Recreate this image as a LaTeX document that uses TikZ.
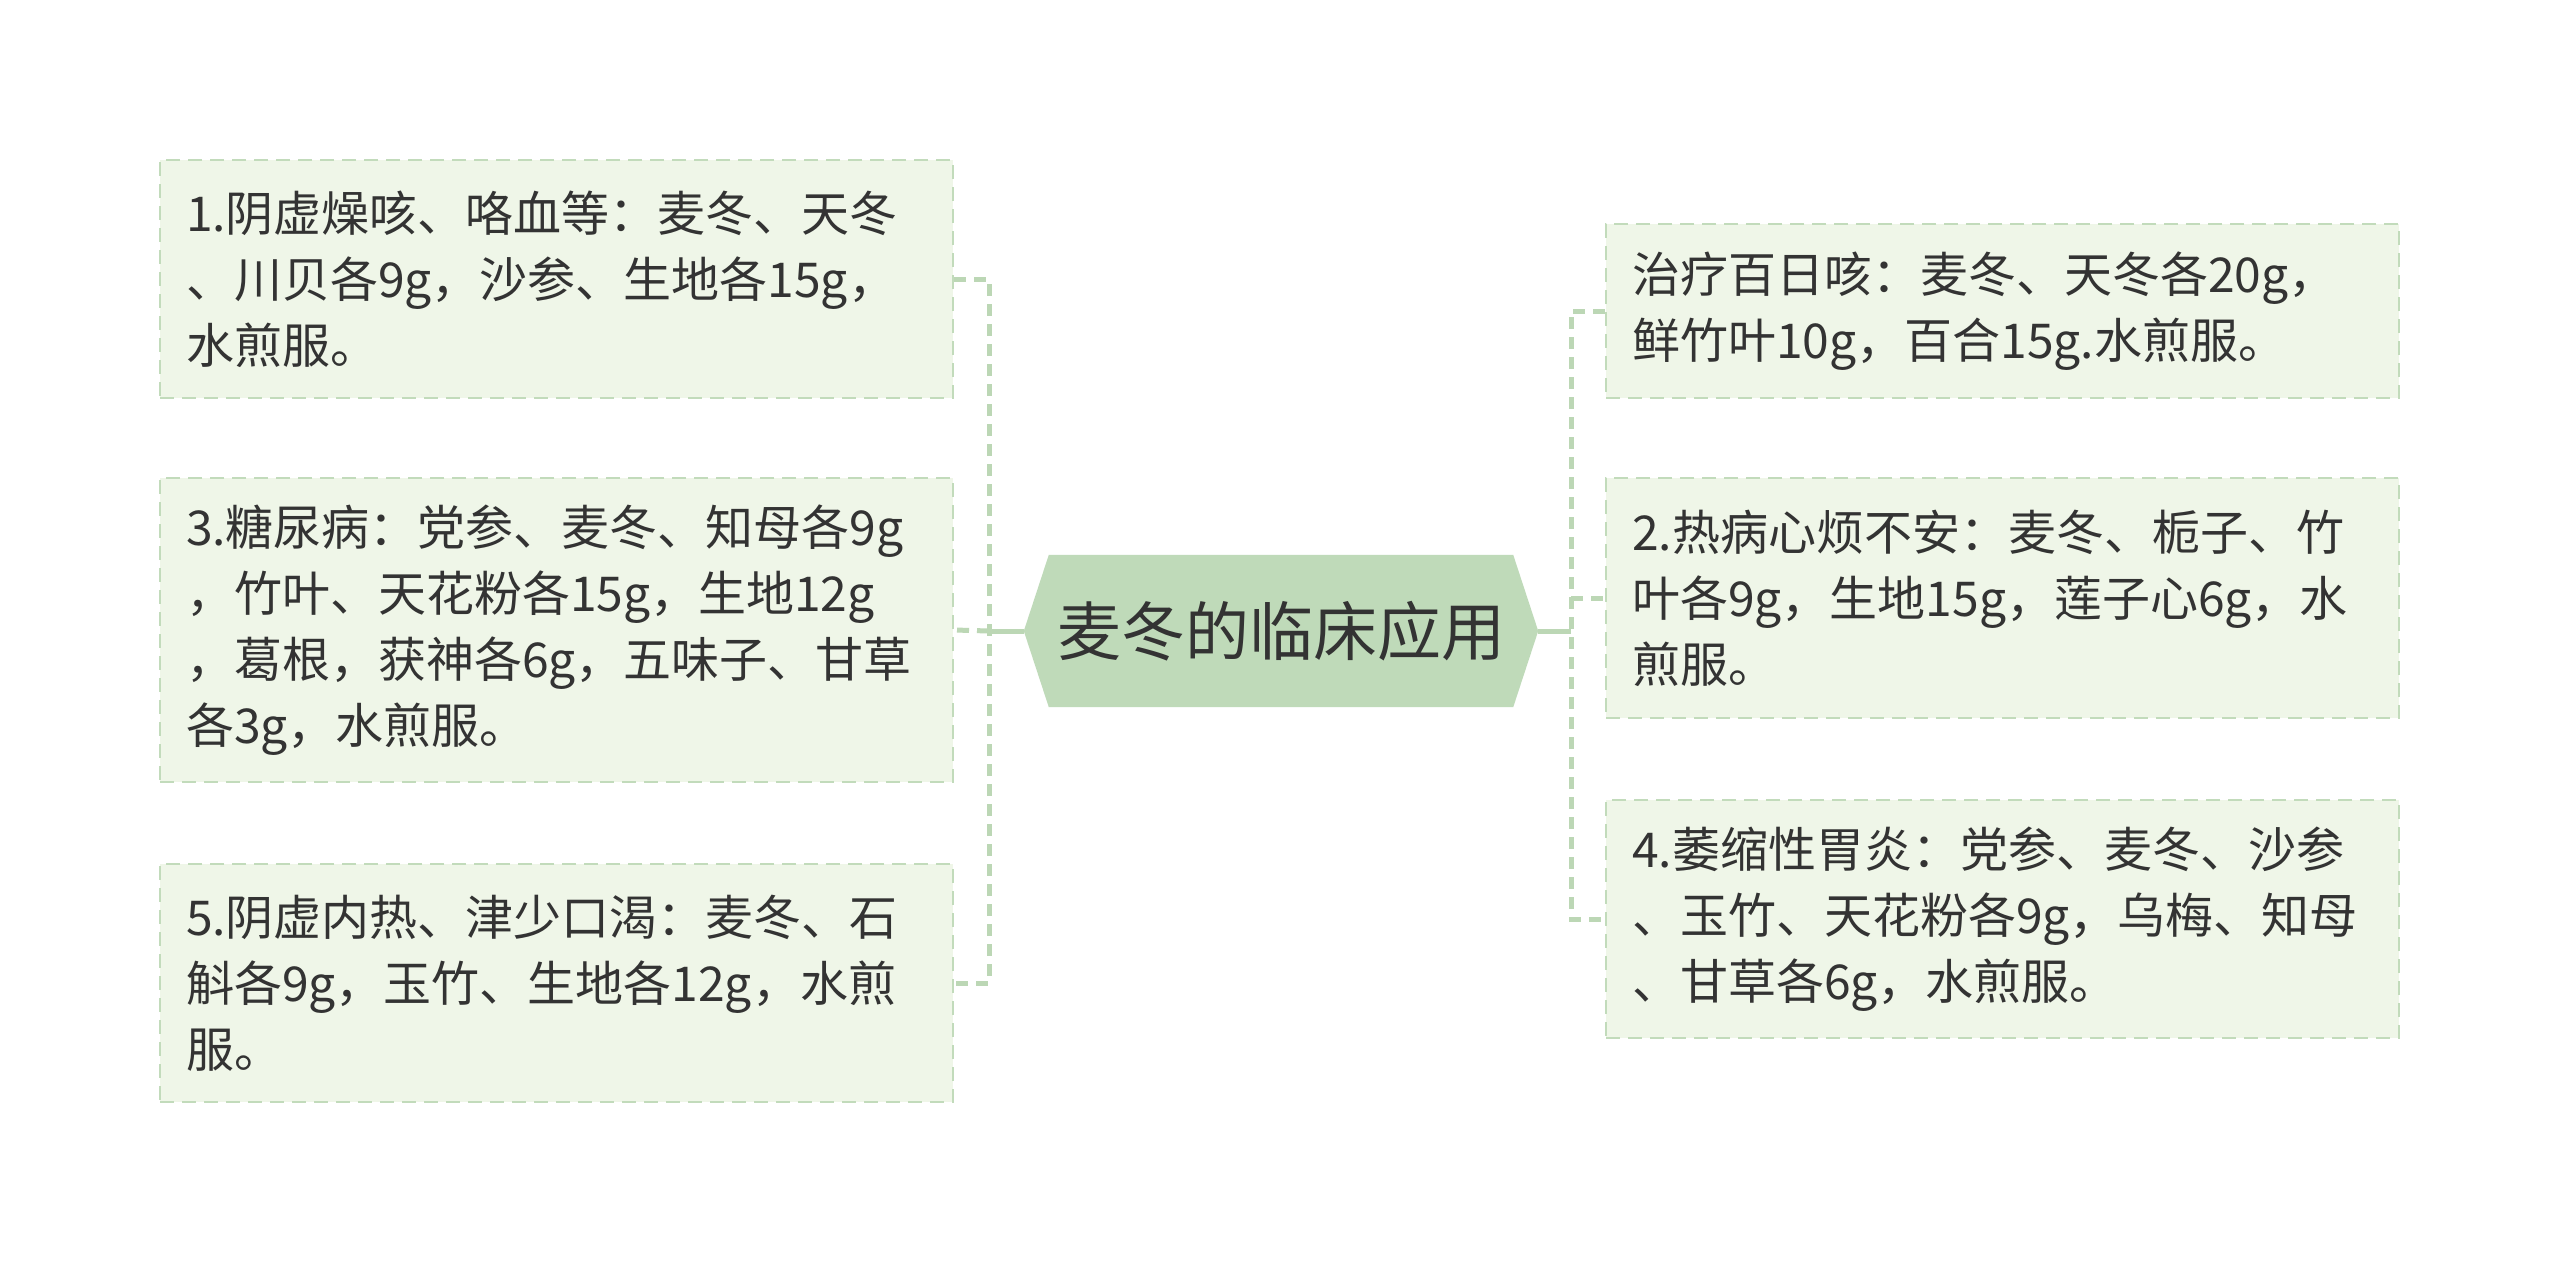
\documentclass[tikz,border=0pt]{standalone}
\usepackage{fontspec}
\setmainfont{Noto Sans CJK SC}
\usetikzlibrary{calc,backgrounds}
\definecolor{boxfill}{HTML}{EFF6E8}
\definecolor{boxline}{HTML}{C2DBBB}
\definecolor{centerfill}{HTML}{BFDAB9}
\definecolor{txt}{HTML}{333333}
\definecolor{linkc}{HTML}{BCD7B5}
\begin{document}
\begin{tikzpicture}[x=1pt,y=-1pt,
 leaf/.style={draw=boxline, line width=2.5pt, dash pattern=on 14pt off 8pt, fill=boxfill, text=txt,
   font=\fontsize{48pt}{66pt}\selectfont, align=left, text width=741pt, inner xsep=26pt, inner ysep=0pt,
   minimum width=793pt, anchor=center},
 link/.style={draw=linkc, line width=5pt, dash pattern=on 12pt off 8pt},
 solidlink/.style={draw=linkc, line width=5pt}]
\begin{scope}[on background layer]
\fill[white] (0,0) rectangle (2560,1264);
\end{scope}
\useasboundingbox (0,0) rectangle (2560,1264);

\node[leaf, minimum height=238pt] (l1) at (556.5,279) {1.阴虚燥咳、咯血等：麦冬、天冬\\、川贝各9g，沙参、生地各15g，\\水煎服。};
\node[leaf, minimum height=304pt] (l3) at (556.5,630) {3.糖尿病：党参、麦冬、知母各9g\\，竹叶、天花粉各15g，生地12g\\，葛根，获神各6g，五味子、甘草\\各3g，水煎服。};
\node[leaf, minimum height=238pt] (l5) at (556.5,983) {5.阴虚内热、津少口渴：麦冬、石\\斛各9g，玉竹、生地各12g，水煎\\服。};
\node[leaf, minimum height=174pt] (r1) at (2002.5,311) {治疗百日咳：麦冬、天冬各20g，\\鲜竹叶10g，百合15g.水煎服。};
\node[leaf, minimum height=240pt] (r2) at (2002.5,598) {2.热病心烦不安：麦冬、栀子、竹\\叶各9g，生地15g，莲子心6g，水\\煎服。};
\node[leaf, minimum height=238pt] (r3) at (2002.5,919) {4.萎缩性胃炎：党参、麦冬、沙参\\、玉竹、天花粉各9g，乌梅、知母\\、甘草各6g，水煎服。};

\node[font=\fontsize{64pt}{76pt}\selectfont, text=txt, minimum width=464pt, minimum height=152pt, inner sep=0pt] (c) at (1281,631) {麦冬的临床应用};
\coordinate (cw) at ($(c.west)+(-25,0)$);
\coordinate (ce) at ($(c.east)+(25,0)$);
\begin{scope}[on background layer]
\fill[centerfill] (c.north west) -- (c.north east) -- (ce) -- (c.south east) -- (c.south west) -- (cw) -- cycle;
\end{scope}

\coordinate (ls) at (989,631);
\coordinate (rs) at (1571,631);
\draw[solidlink] (cw) -- (ls);
\draw[link] (l1.east) -- (l1.east -| ls) -- (l5.east -| ls) -- (l5.east);
\draw[link] (ls) -- (l3.east);
\draw[solidlink] (ce) -- (rs);
\draw[link] (r1.west) -- (r1.west -| rs) -- (r3.west -| rs) -- (r3.west);
\draw[link] (r2.west -| rs) -- (r2.west);
\end{tikzpicture}
\end{document}
